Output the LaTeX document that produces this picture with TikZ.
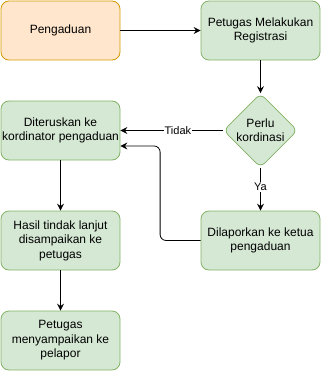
\documentclass[tikz,border=0pt]{standalone}
\usepackage{fontspec}
\setmainfont{Liberation Sans}
\usetikzlibrary{shapes.geometric,arrows.meta,calc}
\definecolor{orfill}{HTML}{FFE6CC}
\definecolor{orline}{HTML}{D79B00}
\definecolor{grfill}{HTML}{D5E8D4}
\definecolor{grline}{HTML}{82B366}
\begin{document}
\begin{tikzpicture}[x=1pt,y=-1pt,
  box/.style={draw=grline,fill=grfill,rounded corners=8pt,minimum width=119pt,minimum height=59pt,inner sep=0pt,align=center,font=\fontsize{12}{14.4}\selectfont,line width=0.8pt},
  obox/.style={box,draw=orline,fill=orfill},
  dec/.style={diamond,draw=grline,fill=grfill,rounded corners=6pt,minimum width=74pt,minimum height=74pt,inner sep=0pt,align=center,font=\fontsize{12}{14.4}\selectfont,line width=0.8pt},
  conn/.style={draw=black,line width=0.8pt,-{Stealth[length=7pt,width=7pt,inset=2.5pt]}},
  lbl/.style={fill=white,inner sep=1pt,font=\fontsize{11}{13}\selectfont}]
\useasboundingbox (0,0) rectangle (322,372);
\node[obox] (p) at (60.5,30.5) {Pengaduan};
\node[box] (reg) at (260.5,30.5) {Petugas Melakukan\\Registrasi};
\node[dec] (dia) at (260.5,130.5) {Perlu\\kordinasi};
\node[box] (dit) at (60.5,130.5) {Diteruskan ke\\kordinator pengaduan};
\node[box] (dil) at (260.5,240.5) {Dilaporkan ke ketua\\pengaduan};
\node[box] (has) at (60.5,240.5) {Hasil tindak lanjut\\disampaikan ke\\petugas};
\node[box] (pm) at (60.5,340.5) {Petugas\\menyampaikan ke\\pelapor};
\draw[conn] (p.east) -- (reg.west);
\draw[conn] (reg.south) -- (dia.north);
\draw[conn] (dia.west) -- node[lbl,pos=0.44]{Tidak} (dit.east);
\draw[conn] (dia.south) -- node[lbl,pos=0.45]{Ya} (dil.north);
\draw[conn,rounded corners=6pt] (dil.west) -- ++(-40.5,0) |- ([yshift=-15.5pt]dit.east);
\draw[conn] (dit.south) -- (has.north);
\draw[conn] (has.south) -- (pm.north);
\end{tikzpicture}
\end{document}
